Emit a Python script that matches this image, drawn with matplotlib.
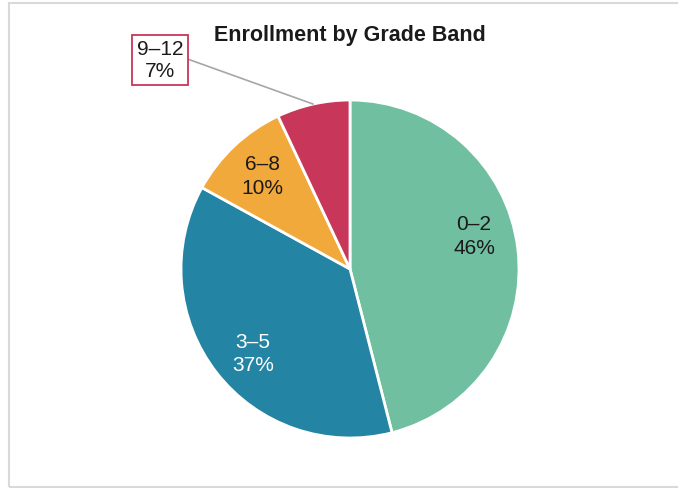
import numpy as np
import matplotlib.pyplot as plt
from matplotlib.patches import Rectangle

# Дані
bands = ['0–2', '3–5', '6–8', '9–12']
shares = [46, 37, 10, 7]
colors = ['#70bfa0', '#2484a3', '#f2a93b', '#c8365a']
text_colors = ['#1a1a1a', '#ffffff', '#1a1a1a', '#1a1a1a']

plt.rcParams['font.family'] = ['Liberation Sans', 'DejaVu Sans']

fig = plt.figure(figsize=(6.78, 4.89), dpi=100)
W, H = 678, 489

# рамка навколо графіка
fig.patches.append(Rectangle((9 / W, 1 / H), 1.2, (484 / H), transform=fig.transFigure,
                             fill=False, edgecolor='#d9d9d9', linewidth=1.5))

# вісь, щоб коло мало радіус 169 px і центр (350, 270)
r = 169
cx, cy = 350, H - 270
ax = fig.add_axes([(cx - r) / W, (cy - r) / H, 2 * r / W, 2 * r / H])

wedges, _ = ax.pie(shares, colors=colors, startangle=90, counterclock=False,
                   wedgeprops=dict(edgecolor='white', linewidth=2))
ax.set_xlim(-1, 1)
ax.set_ylim(-1, 1)
ax.set_aspect('equal')
ax.axis('off')

# підписи всередині секторів
nudge = [8, 3, 0, 0]
for i, w in enumerate(wedges[:3]):
    ang = np.deg2rad((w.theta1 + w.theta2) / 2 + nudge[i])
    ax.text(0.76 * np.cos(ang), 0.76 * np.sin(ang),
            f'{bands[i]}\n{shares[i]}%', ha='center', va='center',
            fontsize=15, color=text_colors[i], linespacing=1.3)

# винесений підпис для останнього сектора
w = wedges[3]
ang = np.deg2rad((w.theta1 + w.theta2) / 2)
ax.annotate(f'{bands[3]}\n{shares[3]}%', xy=(np.cos(ang), np.sin(ang)),
            xytext=(-1.124, 1.237), ha='center', va='center', fontsize=15,
            color=text_colors[3], linespacing=1.2, annotation_clip=False,
            bbox=dict(boxstyle='square,pad=0.22', fc='white', ec='#c8365a', lw=1.3),
            arrowprops=dict(arrowstyle='-', color='#a6a6a6', lw=1.2,
                            shrinkA=0, shrinkB=0, relpos=(1, 0.56)))

fig.text(cx / W, 1 - 36 / H, 'Enrollment by Grade Band', ha='center', va='center',
         fontsize=15.5, fontweight='bold', color='#1a1a1a')

fig.savefig('out.png', dpi=100)
